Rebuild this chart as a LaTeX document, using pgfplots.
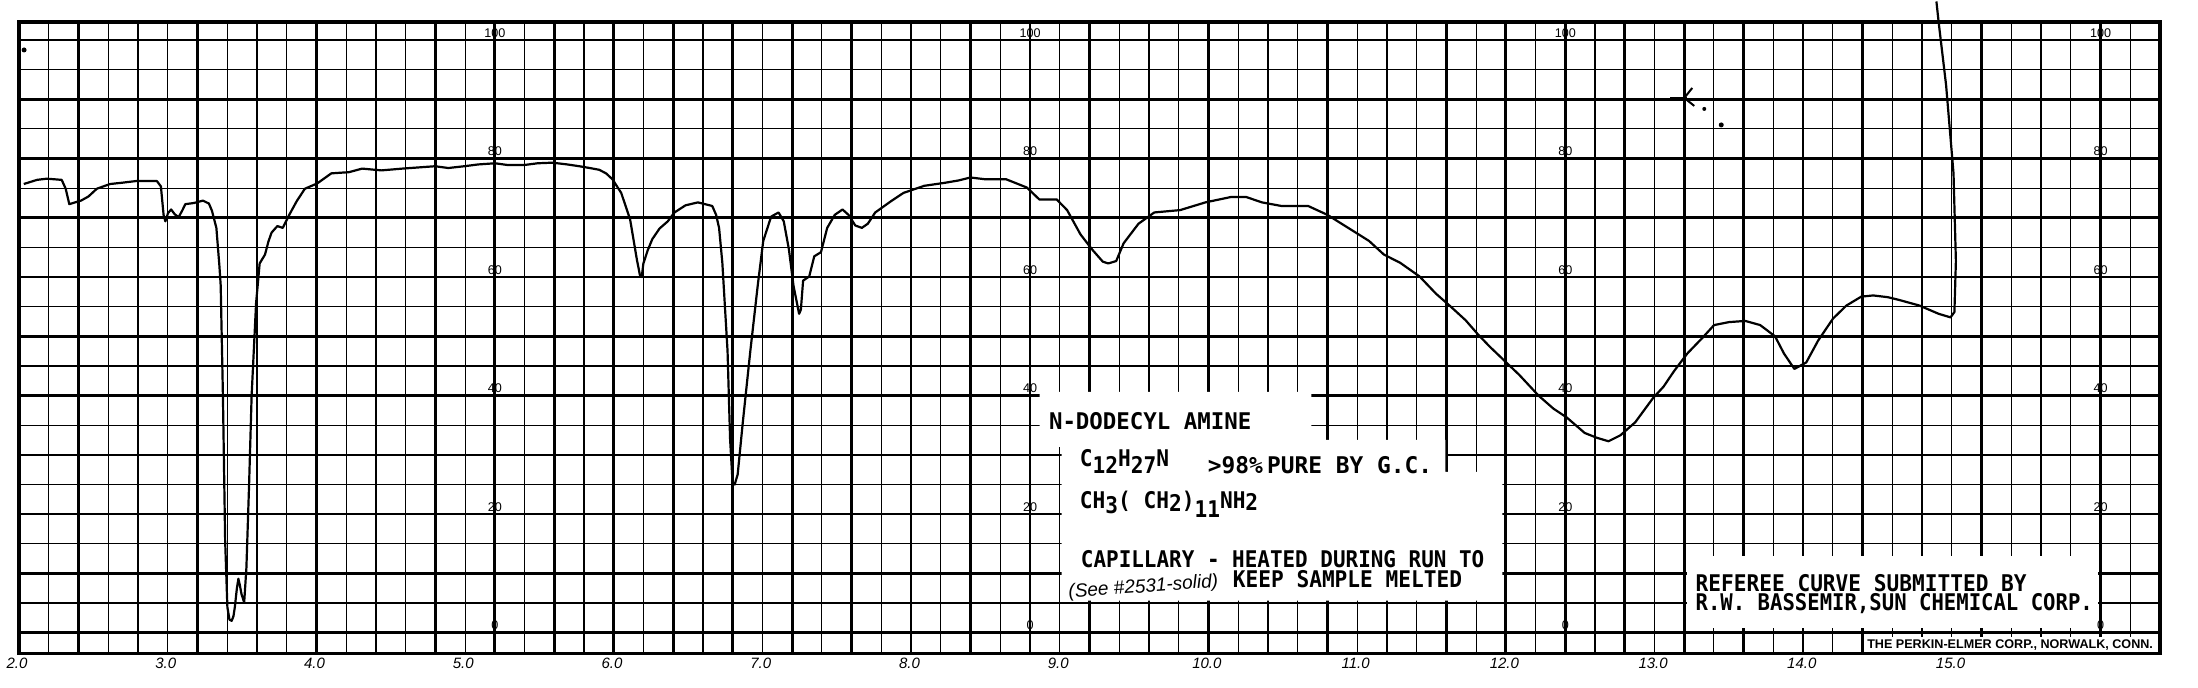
\documentclass[border=0pt]{standalone}
\usepackage{fontspec}
\usepackage{pgfplots}
\pgfplotsset{compat=1.18}
\setmainfont{Liberation Sans}
\newfontfamily\letterfont[FakeStretch=0.92]{DejaVu Sans Mono}
\newfontfamily\printfont{Liberation Sans}
\begin{document}
\begin{tikzpicture}
\path (0,0) rectangle (1099pt,344pt);
% chart paper grid
\begin{axis}[
  at={(9pt,17pt)}, anchor=south west,
  width=1071pt, height=316pt, scale only axis,
  xmin=0, xmax=72, ymin=-3.54, ymax=103.04,
  xtick={0,2,...,72}, minor xtick={1,3,...,71},
  ytick={0,10,...,100}, minor ytick={5,15,...,95},
  grid=both,
  major grid style={line width=1.35pt, black},
  minor grid style={line width=0.55pt, black},
  axis line style={line width=1.8pt, black},
  tick style={draw=none},
  xticklabels={}, yticklabels={},
]
\end{axis}
\begin{scope}[x=0.5pt, y=-0.5pt, yshift=344pt]
  % white pasted labels
  \fill[white] (1039,392) -- (1311,392) -- (1311,440) -- (1445,440) -- (1445,472)
     -- (1502,472) -- (1502,601) -- (1061,601) -- (1061,447) -- (1039,447) -- cycle;
  \fill[white] (1687,556) rectangle (2098,628);
  \fill[white] (1864,637) rectangle (2157,652);
  % percent scale labels
  \foreach \X in {494,1029.5,1565,2100.5}{
    \foreach \v in {0,20,40,60,80,100}{
      \node[anchor=south, inner sep=0.4pt, font=\printfont\fontsize{6.3}{6.3}\selectfont]
        at (\X, {633-5.93*\v-1.5}) {\v};
    }
  }
  % sample description
  \begin{scope}[every node/.style={anchor=base west, inner sep=0pt, font=\letterfont\bfseries\fontsize{11.5}{11.5}\selectfont}]
    \node[xscale=1.06] at (1048,430) {N-DODECYL AMINE};
    \node at (1079,474) {\raisebox{3.5pt}{C}12\raisebox{3.5pt}{H}27\raisebox{3.5pt}{N}};
    \node[xscale=1.08] at (1207,474) {>98\%\,PURE BY G.C.};
    \node at (1079,509) {CH\raisebox{-2.5pt}{3}( CH\raisebox{-1.5pt}{2})\raisebox{-4.5pt}{11}NH\raisebox{-1pt}{2}};
    \node[xscale=0.99] at (1080,568) {CAPILLARY - HEATED DURING RUN TO};
    \node at (1232,588) {KEEP SAMPLE MELTED};
    \node at (1695,592) {REFEREE CURVE SUBMITTED BY};
    \node[xscale=0.975] at (1695,611) {R.W. BASSEMIR,SUN CHEMICAL CORP.};
  \end{scope}
  \node[anchor=base west, inner sep=0pt, rotate=4, font=\printfont\itshape\fontsize{9.5}{9.5}\selectfont]
    at (1068,598) {(See \#2531-solid)};
  \node[inner sep=0pt, font=\printfont\bfseries\fontsize{6.3}{6.3}\selectfont] at (2010,645)
    {THE PERKIN-ELMER CORP., NORWALK, CONN.};
  % stray pen marks
  \draw[line width=1pt] (1670,98) -- (1687,98);
  \draw[line width=1pt] (1692,88) -- (1684,98) -- (1694,106);
  \fill (1704,109) circle (2);
  \fill (1721,125) circle (2.5);
  \fill (23,50) circle (2.5);
\end{scope}
% spectrum
\begin{axis}[
  at={(8pt,17pt)}, anchor=south west,
  width=1072pt, height=316pt, scale only axis,
  xmin=2, xmax=16.4086, ymin=-3.54, ymax=103.04,
  axis line style={draw=none},
  ytick=\empty,
  xtick={2,3,...,15},
  xticklabels={2.0,3.0,4.0,5.0,6.0,7.0,8.0,9.0,10.0,11.0,12.0,13.0,14.0,15.0},
  major tick length=0pt,
  xticklabel style={font=\printfont\itshape\fontsize{7.5}{7.5}\selectfont, yshift=1.5pt},
  clip=false,
]
\addplot[line width=1.1pt, black, line join=round] table {
2.045 75.7
2.134 76.4
2.20 76.6
2.30 76.4
2.327 74.9
2.351 72.3
2.39 72.6
2.43 72.9
2.48 73.6
2.536 74.9
2.625 75.7
2.70 75.9
2.80 76.2
2.94 76.2
2.967 75.3
2.985 70.5
2.997 69.4
3.015 70.8
3.036 71.4
3.06 70.6
3.086 70.1
3.11 71.2
3.131 72.3
3.19 72.5
3.25 72.9
3.29 72.4
3.31 71.2
3.34 68.3
3.36 62.0
3.369 58.6
3.384 40.0
3.399 15.5
3.414 4.3
3.428 2.2
3.443 2.0
3.455 2.8
3.464 4.3
3.478 7.5
3.488 9.1
3.498 8.0
3.509 6.5
3.527 5.1
3.542 11.0
3.56 25.0
3.577 40.0
3.607 55.6
3.631 62.3
3.667 63.8
3.69 66.0
3.711 67.5
3.75 68.6
3.786 68.3
3.83 70.5
3.88 72.8
3.935 74.9
4.018 75.8
4.113 77.5
4.232 77.7
4.32 78.3
4.45 78.0
4.59 78.3
4.70 78.5
4.81 78.7
4.90 78.4
5.006 78.7
5.10 79.0
5.214 79.2
5.30 78.9
5.408 78.9
5.50 79.2
5.60 79.3
5.70 79.0
5.78 78.7
5.85 78.4
5.914 78.1
5.96 77.5
6.003 76.5
6.062 74.2
6.122 69.7
6.167 63.0
6.188 60.3
6.20 60.0
6.211 62.3
6.24 64.5
6.271 66.4
6.32 68.2
6.375 69.4
6.42 70.9
6.494 72.1
6.577 72.6
6.674 72.0
6.70 70.5
6.72 68.3
6.742 62.4
6.777 47.5
6.794 32.7
6.811 25.2
6.825 25.0
6.845 26.7
6.88 35.6
6.93 47.5
6.98 58.6
7.017 66.1
7.07 70.2
7.12 70.9
7.155 69.4
7.19 64.6
7.22 58.6
7.258 53.8
7.27 54.5
7.285 59.4
7.326 60.1
7.36 63.5
7.405 64.2
7.447 68.3
7.498 70.5
7.55 71.4
7.59 70.5
7.636 68.7
7.68 68.3
7.72 69.0
7.77 70.9
7.876 72.8
7.96 74.2
8.10 75.4
8.237 75.9
8.33 76.3
8.41 76.8
8.51 76.5
8.65 76.5
8.79 75.1
8.873 73.1
8.99 73.1
9.06 71.3
9.15 67.2
9.23 64.6
9.30 62.6
9.337 62.3
9.39 62.7
9.44 65.7
9.54 69.0
9.646 70.9
9.82 71.3
9.99 72.6
10.16 73.5
10.265 73.5
10.37 72.6
10.50 72.0
10.68 72.0
10.81 70.5
10.95 68.3
11.09 66.1
11.19 63.8
11.30 62.4
11.43 60.1
11.54 57.2
11.64 55.0
11.74 52.7
11.82 50.4
11.90 48.3
12.00 45.9
12.10 43.5
12.23 40.0
12.33 37.8
12.42 36.3
12.54 33.7
12.62 32.9
12.70 32.3
12.78 33.3
12.88 35.5
13.00 39.6
13.07 41.5
13.14 44.1
13.23 47.1
13.33 49.7
13.41 51.9
13.51 52.4
13.62 52.6
13.72 51.9
13.82 50.0
13.88 47.1
13.95 44.5
14.03 45.6
14.11 49.3
14.21 53.0
14.30 55.2
14.40 56.7
14.48 56.9
14.58 56.6
14.66 56.1
14.79 55.2
14.92 53.8
15.00 53.2
15.026 54.1
15.036 62.7
15.02 77.5
14.97 92.4
14.92 103.0
14.905 106.5
};
\end{axis}
\end{tikzpicture}
\end{document}
